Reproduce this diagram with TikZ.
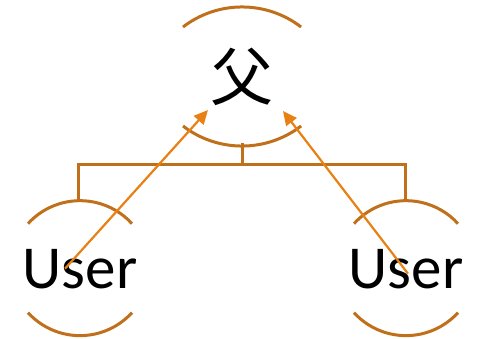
\documentclass[tikz,border=0pt]{standalone}
\usepackage{fontspec}
\setmainfont{Carlito}
\newfontfamily\cjk{Noto Sans CJK SC}
\usepackage{tikz}
\usetikzlibrary{arrows.meta,calc}
\definecolor{ochre}{RGB}{192,112,26}
\definecolor{amber}{RGB}{232,128,20}
\tikzset{
  who/.style={inner sep=0pt,font=\fontsize{61}{61}\selectfont},
  rim/.style={draw=ochre,line width=3pt},
  tie/.style={draw=ochre,line width=3pt},
  link/.style={draw=amber,line width=2.2pt,-{Triangle[length=14pt,width=13pt]}},
}

\begin{document}
\begin{tikzpicture}[x=1pt,y=-1pt]
  \useasboundingbox (0,0) rectangle (480,338);
  % nodes
  \node[inner sep=0pt,font=\cjk\fontsize{63}{63}\selectfont] (dad) at (242,77) {父};
  \node[who,anchor=base] (lu) at (80,288) {User};
  \node[who,anchor=base] (ru) at (406,288) {User};
  % rims round the nodes (y runs downwards)
  \draw[rim] ($(dad.center)+(-59,-50)$) arc[start angle=232.5,end angle=307.5,radius=97];
  \draw[rim] ($(dad.center)+(-59,49)$) arc[start angle=127.5,end angle=52.5,radius=97];
  \foreach \u in {lu,ru}{
    \draw[rim] ($(\u.center)+(-52,-45)$) arc[start angle=222.3,end angle=317.7,radius=70.3];
    \draw[rim] ($(\u.center)+(-52,44)$) arc[start angle=137.7,end angle=42.3,radius=70.3];
  }
  \coordinate (dadbot) at ($(dad.center)+(0,66)$);
  \coordinate (hub) at ($(dadbot)+(0,21)$);
  \coordinate (lutop) at ($(lu.center)+(-2,-68)$);
  \coordinate (rutop) at ($(ru.center)+(-1,-68)$);
  \draw[tie] (dadbot)--(hub);
  \draw[tie] (lutop)|-(hub)-|(rutop);
  % links
  \coordinate (lfoot) at ($(lu.center)+(-15,0)$);
  \coordinate (rfoot) at ($(ru.center)+(2,5)$);
  \coordinate (dadl) at ($(dad.center)+(-34,33)$);
  \coordinate (dadr) at ($(dad.center)+(41,34)$);
  \draw[link] (lfoot)--(dadl);
  \draw[link] (rfoot)--(dadr);
\end{tikzpicture}
\end{document}
